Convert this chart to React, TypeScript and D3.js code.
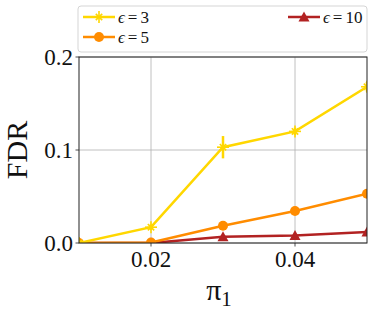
import React from "react";
import * as d3 from "d3";

const xs = [0.01, 0.02, 0.03, 0.04, 0.05];
const eps3 = [0.0, 0.017, 0.103, 0.12, 0.168];
const eps3Err = [0.001, 0.003, 0.012, 0.004, 0.005];
const eps5 = [0.0, 0.0005, 0.0185, 0.0345, 0.053];
const eps5Err = [0.0005, 0.001, 0.002, 0.002, 0.003];
const eps10 = [0.0, 0.0, 0.0067, 0.008, 0.0118];
const eps10Err = [0.0005, 0.0005, 0.002, 0.002, 0.002];
const xTicks = [0.02, 0.04];
const yTicks = [0.0, 0.1, 0.2];

const W = 374, H = 314;
const L = 79, R = 367, T = 57, B = 243;
const FONT = "'Liberation Serif', 'DejaVu Serif', serif";

function Marker({ kind, cx, cy, color }: { kind: string; cx: number; cy: number; color: string }) {
  if (kind === "star") {
    const r = 6;
    const spokes = [0, 45, 90, 135];
    return (
      <g stroke={color} strokeWidth={1.6}>
        {spokes.map((a) => {
          const rad = (a * Math.PI) / 180;
          const rr = a % 90 === 0 ? r : r * 0.75;
          return <line key={a} x1={cx - rr * Math.cos(rad)} y1={cy - rr * Math.sin(rad)} x2={cx + rr * Math.cos(rad)} y2={cy + rr * Math.sin(rad)} />;
        })}
      </g>
    );
  }
  if (kind === "circle") return <circle cx={cx} cy={cy} r={5} fill={color} />;
  const s = 5.5;
  return <path d={`M${cx},${cy - s}L${cx + s},${cy + s * 0.8}L${cx - s},${cy + s * 0.8}Z`} fill={color} />;
}

export default function App() {
  const x = d3.scaleLinear().domain([0.01, 0.05]).range([L, R]);
  const y = d3.scaleLinear().domain([0, 0.2]).range([B, T]);
  const line = d3.line<number>().x((_, i) => x(xs[i])).y((d) => y(d));
  const series = [
    { name: "3", vals: eps3, err: eps3Err, color: "#FFD700", kind: "star" },
    { name: "5", vals: eps5, err: eps5Err, color: "#FF8C00", kind: "circle" },
    { name: "10", vals: eps10, err: eps10Err, color: "#B22222", kind: "tri" },
  ];
  const drawOrder = [series[2], series[1], series[0]];
  const legendPos = [
    { x: 83, y: 17 },
    { x: 83, y: 37 },
    { x: 288, y: 17 },
  ];
  return (
    <svg width={W} height={H} style={{ position: "absolute", left: 0, top: 0 }} fontFamily={FONT}>
      <rect width={W} height={H} fill="white" />
      <defs>
        <clipPath id="plot">
          <rect x={L} y={T} width={R - L} height={B - T} />
        </clipPath>
      </defs>
      {xTicks.map((t) => (
        <line key={"gx" + t} x1={x(t)} x2={x(t)} y1={T} y2={B} stroke="#b0b0b0" strokeWidth={0.8} />
      ))}
      {yTicks.map((t) => (
        <line key={"gy" + t} x1={L} x2={R} y1={y(t)} y2={y(t)} stroke="#b0b0b0" strokeWidth={0.8} />
      ))}
      <g clipPath="url(#plot)">
        {drawOrder.map((s) => (
          <g key={s.name}>
            <path d={line(s.vals) || ""} fill="none" stroke={s.color} strokeWidth={2.5} />
            {s.vals.map((v, i) => (
              <line key={"e" + i} x1={x(xs[i])} x2={x(xs[i])} y1={y(v - s.err[i])} y2={y(v + s.err[i])} stroke={s.color} strokeWidth={2.5} />
            ))}
            {s.vals.map((v, i) => (
              <Marker key={"m" + i} kind={s.kind} cx={x(xs[i])} cy={y(v)} color={s.color} />
            ))}
          </g>
        ))}
      </g>
      <rect x={L} y={T} width={R - L} height={B - T} fill="none" stroke="#222" strokeWidth={1} />
      {yTicks.map((t) => (
        <g key={"yt" + t}>
          <line x1={L - 3.5} x2={L} y1={y(t)} y2={y(t)} stroke="#222" strokeWidth={0.8} />
          <text x={L - 6} y={y(t)} dy="0.35em" textAnchor="end" fontSize={23} fill="#111">{t.toFixed(1)}</text>
        </g>
      ))}
      {xTicks.map((t) => (
        <g key={"xt" + t}>
          <line x1={x(t)} x2={x(t)} y1={B} y2={B + 3.5} stroke="#222" strokeWidth={0.8} />
          <text x={x(t)} y={267} textAnchor="middle" fontSize={23} fill="#111">{t.toFixed(2)}</text>
        </g>
      ))}
      <text transform={`translate(27,${(T + B) / 2}) rotate(-90)`} textAnchor="middle" fontSize={30} fill="#111">FDR</text>
      <text x={(L + R) / 2 - 4} y={300} textAnchor="middle" fontSize={30} fill="#111">
        π<tspan fontSize={21} dy={6}>1</tspan>
      </text>
      <rect x={78} y={6} width={289} height={46} rx={3} fill="white" fillOpacity={0.85} stroke="#d5d5d5" strokeWidth={1} />
      {series.map((s, i) => {
        const p = legendPos[i];
        return (
          <g key={"l" + s.name}>
            <line x1={p.x} x2={p.x + 32} y1={p.y} y2={p.y} stroke={s.color} strokeWidth={2.5} />
            <Marker kind={s.kind} cx={p.x + 16} cy={p.y} color={s.color} />
            <text x={p.x + 35} y={p.y} dy="0.35em" fontSize={17} fill="#111">
              <tspan fontStyle="italic">ϵ</tspan>
              <tspan dx={3}>=</tspan>
              <tspan dx={3}>{s.name}</tspan>
            </text>
          </g>
        );
      })}
    </svg>
  );
}
